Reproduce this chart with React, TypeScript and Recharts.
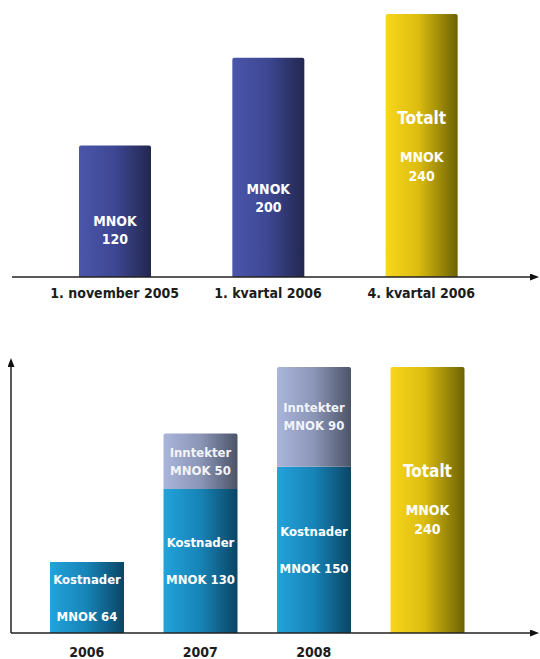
import { BarChart, Bar, XAxis, YAxis, Cell, LabelList } from "recharts";

const periods = ["1. november 2005", "1. kvartal 2006", "4. kvartal 2006"];
const periodValues = [120, 200, 240];

const years = ["2006", "2007", "2008", ""];
const kostnader = [64, 130, 150, null];
const inntekter = [null, 50, 90, null];
const totalt = [null, null, null, 240];

const FONT = "'DejaVu Sans Condensed', 'DejaVu Sans', sans-serif";

const topData = periods.map((period, i) => ({ period, value: periodValues[i] }));
const bottomData = years.map((year, i) => ({
	year,
	kostnader: kostnader[i],
	inntekter: inntekter[i],
	totalt: totalt[i],
}));

const txt = {
	fill: "#ffffff",
	fontWeight: 700,
	fontFamily: FONT,
	textAnchor: "middle" as const,
	dominantBaseline: "central" as const,
};

function Gradients() {
	return (
		<>
			<linearGradient id="gBlue" x1="0" y1="0" x2="1" y2="0">
				<stop offset="0" stopColor="#4b56ab" />
				<stop offset="0.5" stopColor="#3d4792" />
				<stop offset="1" stopColor="#22274f" />
			</linearGradient>
			<linearGradient id="gGold" x1="0" y1="0" x2="1" y2="0">
				<stop offset="0" stopColor="#f8d61c" />
				<stop offset="0.45" stopColor="#dcbd10" />
				<stop offset="1" stopColor="#6c6203" />
			</linearGradient>
			<linearGradient id="gCyan" x1="0" y1="0" x2="1" y2="0">
				<stop offset="0" stopColor="#22a3db" />
				<stop offset="0.5" stopColor="#1783b6" />
				<stop offset="1" stopColor="#0a4565" />
			</linearGradient>
			<linearGradient id="gGray" x1="0" y1="0" x2="1" y2="0">
				<stop offset="0" stopColor="#a9b5da" />
				<stop offset="0.5" stopColor="#8b95b6" />
				<stop offset="1" stopColor="#4c5468" />
			</linearGradient>
		</>
	);
}

function Arrow({ id }: { id: string }) {
	return (
		<marker
			id={id}
			viewBox="0 0 9 7"
			refX="0"
			refY="3.5"
			markerWidth="9"
			markerHeight="7"
			markerUnits="userSpaceOnUse"
			orient="auto-start-reverse"
		>
			<path d="M0,0 L9,3.5 L0,7 z" fill="#111" />
		</marker>
	);
}

function TotalText({ cx, y, value }: any) {
	return (
		<g>
			<text {...txt} x={cx} y={y + 104} fontSize={17}>Totalt</text>
			<text {...txt} x={cx} y={y + 143} fontSize={14}>MNOK</text>
			<text {...txt} x={cx} y={y + 162} fontSize={14}>{value}</text>
		</g>
	);
}

function TopLabel(props: any) {
	const { x, y, width, height, value, index } = props;
	if (value == null) return null;
	const cx = x + width / 2;
	if (index === periods.length - 1) return <TotalText cx={cx} y={y} value={value} />;
	const mid = y + height * 0.64;
	return (
		<g>
			<text {...txt} x={cx} y={mid - 9} fontSize={14}>MNOK</text>
			<text {...txt} x={cx} y={mid + 9} fontSize={14}>{value}</text>
		</g>
	);
}

function KostLabel(props: any) {
	const { x, y, width, height, value } = props;
	if (value == null) return null;
	const cx = x + width / 2;
	const mid = y + height / 2;
	return (
		<g>
			<text {...txt} x={cx} y={mid - 18.5} fontSize={13}>Kostnader</text>
			<text {...txt} x={cx} y={mid + 18.5} fontSize={13}>{`MNOK ${value}`}</text>
		</g>
	);
}

function InnLabel(props: any) {
	const { x, y, width, height, value } = props;
	if (value == null) return null;
	const cx = x + width / 2;
	const mid = y + height / 2;
	return (
		<g>
			<text {...txt} x={cx} y={mid - 9} fontSize={13} fill="#f2f4fa">Inntekter</text>
			<text {...txt} x={cx} y={mid + 9} fontSize={13} fill="#f2f4fa">{`MNOK ${value}`}</text>
		</g>
	);
}

function TotLabel(props: any) {
	const { x, y, width, value } = props;
	if (value == null) return null;
	return <TotalText cx={x + width / 2} y={y} value={value} />;
}

const makeTick = (dy: number) => (props: any) => {
	const { x, y, payload } = props;
	return (
		<text
			x={x}
			y={y + dy}
			textAnchor="middle"
			dominantBaseline="central"
			fontFamily={FONT}
			fontWeight={700}
			fontSize={14}
			fill="#1c1c1c"
		>
			{payload.value}
		</text>
	);
};

const topColors = ["url(#gBlue)", "url(#gBlue)", "url(#gGold)"];

export default function App() {
	return (
		<div
			style={{
				position: "absolute",
				top: 0,
				left: 0,
				width: 540,
				height: 659,
				background: "#fff",
				fontFamily: FONT,
			}}
		>
			<div style={{ position: "absolute", top: 0, left: 0 }}>
				<BarChart
					width={540}
					height={320}
					data={topData}
					margin={{ top: 14, right: 10, left: 12, bottom: 13 }}
				>
					<defs>
						<Gradients />
						<Arrow id="arrTop" />
					</defs>
					<XAxis
						dataKey="period"
						height={30}
						padding={{ left: 26, right: 32 }}
						axisLine={{ stroke: "#222", strokeWidth: 1.5, markerEnd: "url(#arrTop)" }}
						tickLine={false}
						tickSize={0}
						tickMargin={0}
						interval={0}
						tick={makeTick(16)}
					/>
					<YAxis hide domain={[0, 240]} />
					<Bar dataKey="value" barSize={72} isAnimationActive={false} radius={[2, 2, 0, 0]}>
						{topData.map((d, i) => (
							<Cell key={d.period} fill={topColors[i]} />
						))}
						<LabelList dataKey="value" content={TopLabel} />
					</Bar>
				</BarChart>
			</div>
			<div style={{ position: "absolute", top: 330, left: 0 }}>
				<BarChart
					width={540}
					height={329}
					data={bottomData}
					margin={{ top: 37, right: 10, left: 10, bottom: 0 }}
				>
					<defs>
						<Arrow id="arrBot" />
					</defs>
					<XAxis
						dataKey="year"
						height={26}
						padding={{ left: 19, right: 46 }}
						axisLine={{ stroke: "#222", strokeWidth: 1.5, markerEnd: "url(#arrBot)" }}
						tickLine={false}
						tickSize={0}
						tickMargin={0}
						interval={0}
						tick={makeTick(19)}
					/>
					<YAxis
						width={1}
						domain={[0, 240]}
						tick={false}
						tickLine={false}
						axisLine={{ stroke: "#222", strokeWidth: 1.5, markerStart: "url(#arrBot)" }}
					/>
					<Bar dataKey="kostnader" stackId="s" barSize={74} fill="url(#gCyan)" isAnimationActive={false}>
						<LabelList dataKey="kostnader" content={KostLabel} />
					</Bar>
					<Bar dataKey="inntekter" stackId="s" barSize={74} fill="url(#gGray)" isAnimationActive={false} radius={[2, 2, 0, 0]}>
						<LabelList dataKey="inntekter" content={InnLabel} />
					</Bar>
					<Bar dataKey="totalt" stackId="s" barSize={74} fill="url(#gGold)" isAnimationActive={false} radius={[2, 2, 0, 0]}>
						<LabelList dataKey="totalt" content={TotLabel} />
					</Bar>
				</BarChart>
			</div>
		</div>
	);
}
